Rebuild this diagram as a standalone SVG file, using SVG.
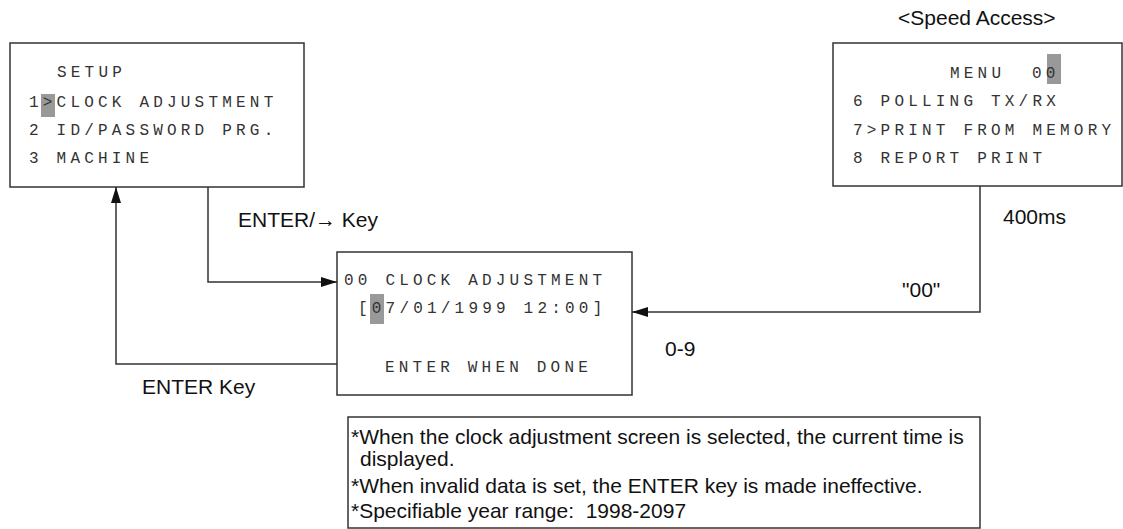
<svg xmlns="http://www.w3.org/2000/svg" width="1123" height="529" viewBox="0 0 1123 529">
<defs>
<style>
.box{fill:#fff;stroke:#333;stroke-width:1.5}
.mono{font-family:"Liberation Mono","DejaVu Sans Mono",monospace;font-size:16px;letter-spacing:4.2px;fill:#333}
.lbl{font-family:"Liberation Sans",Arial,sans-serif;font-size:21px;fill:#111}
.note{font-family:"Liberation Sans",Arial,sans-serif;font-size:21px;fill:#111}
.hl{fill:#999}
.conn{fill:none;stroke:#333;stroke-width:1.5}
</style>
<marker id="arr" viewBox="0 0 16 10" refX="16" refY="5" markerWidth="16" markerHeight="10" markerUnits="userSpaceOnUse" orient="auto">
<path d="M0,0 L16,5 L0,10 Z" fill="#111"/>
</marker>
</defs>
<rect width="1123" height="529" fill="#fff"/>
<g id="setup">
<rect class="box" x="10" y="43" width="294" height="144"/>
<rect class="hl" x="41" y="94" width="14" height="23"/>
<text class="mono" x="57" y="77">SETUP</text>
<text class="mono" x="29" y="107">1&gt;CLOCK ADJUSTMENT</text>
<text class="mono" x="29" y="135">2 ID/PASSWORD PRG.</text>
<text class="mono" x="29" y="163">3 MACHINE</text>
</g>
<g id="speed-access">
<text class="lbl" x="898" y="25">&lt;Speed Access&gt;</text>
<rect class="box" x="833" y="43" width="289" height="143"/>
<rect class="hl" x="1047" y="54" width="14" height="30"/>
<text class="mono" x="950" y="78">MENU</text>
<text class="mono" x="1032" y="78">00</text>
<text class="mono" x="853" y="106">6 POLLING TX/RX</text>
<text class="mono" x="853" y="135">7&gt;PRINT FROM MEMORY</text>
<text class="mono" x="853" y="163">8 REPORT PRINT</text>
</g>
<g id="clock">
<rect class="box" x="337" y="252" width="295" height="143"/>
<rect class="hl" x="370" y="294" width="14" height="30"/>
<text class="mono" x="344" y="285">00 CLOCK ADJUSTMENT</text>
<text class="mono" x="358" y="313">[07/01/1999 12:00]</text>
<text class="mono" x="385" y="372">ENTER WHEN DONE</text>
</g>
<g id="notes">
<rect class="box" x="348" y="417" width="632" height="111"/>
<text class="note" x="351" y="444">*When the clock adjustment screen is selected, the current time is</text>
<text class="note" x="360" y="466">displayed.</text>
<text class="note" x="351" y="493">*When invalid data is set, the ENTER key is made ineffective.</text>
<text class="note" x="351" y="518" xml:space="preserve">*Specifiable year range:  1998-2097</text>
</g>
<g id="connectors">
<path class="conn" d="M208,187 V282 H337" marker-end="url(#arr)"/>
<path class="conn" d="M337,364 H116 V187" marker-end="url(#arr)"/>
<path class="conn" d="M980,186 V312 H632" marker-end="url(#arr)"/>
</g>
<g id="labels">
<text class="lbl" x="238" y="227">ENTER/→ Key</text>
<text class="lbl" x="142" y="394">ENTER Key</text>
<text class="lbl" x="1003" y="224">400ms</text>
<text class="lbl" x="902" y="297">"00"</text>
<text class="lbl" x="665" y="356">0-9</text>
</g>
</svg>
